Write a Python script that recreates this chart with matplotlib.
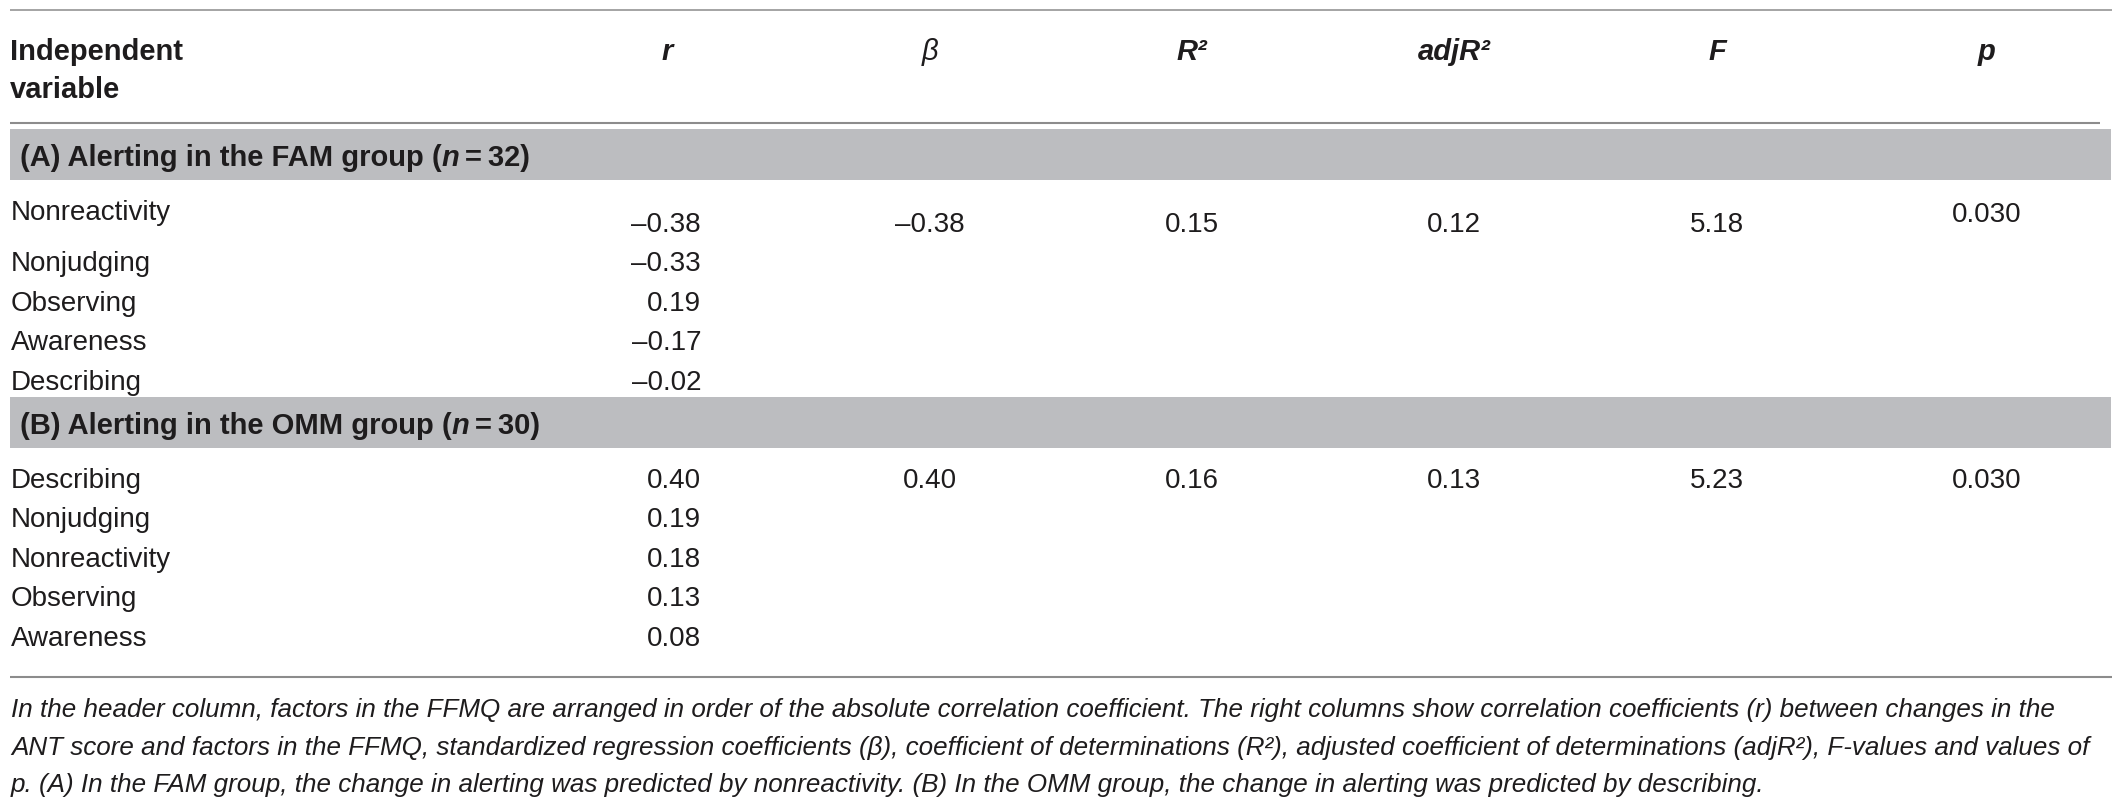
import matplotlib
matplotlib.use('Agg')
import matplotlib.pyplot as plt
from matplotlib.patches import Rectangle

# table contents
col_heads = ['r', 'β', 'R²', 'adjR²', 'F', 'p']
group_titles = ['(A) Alerting in the FAM group (', '(B) Alerting in the OMM group (']
group_n = [32, 30]
vars_a = ['Nonreactivity', 'Nonjudging', 'Observing', 'Awareness', 'Describing']
r_a = [-0.38, -0.33, 0.19, -0.17, -0.02]
vars_b = ['Describing', 'Nonjudging', 'Nonreactivity', 'Observing', 'Awareness']
r_b = [0.40, 0.19, 0.18, 0.13, 0.08]
beta = [-0.38, 0.40]
r2 = [0.15, 0.16]
adj_r2 = [0.12, 0.13]
f_vals = [5.18, 5.23]
p_vals = [0.030, 0.030]
notes = [
    'In the header column, factors in the FFMQ are arranged in order of the absolute correlation coefficient. '
    'The right columns show correlation coefficients (r) between changes in the',
    'ANT score and factors in the FFMQ, standardized regression coefficients (β), coefficient of determinations (R²), '
    'adjusted coefficient of determinations (adjR²), F-values and values of',
    'p. (A) In the FAM group, the change in alerting was predicted by nonreactivity. '
    '(B) In the OMM group, the change in alerting was predicted by describing.',
]

plt.rcParams['font.family'] = ['Liberation Sans', 'DejaVu Sans']

TEXT = '#1e1c1d'
BAND = '#bcbdc0'
RULE = '#8c8c8c'
BODY = 20
BOLD = 21
NOTE = 18.7

fig = plt.figure(figsize=(21.24, 8.1), dpi=100)
ax = fig.add_axes([0, 0, 1, 1])
ax.set_xlim(0, 2124)
ax.set_ylim(810, 0)
ax.axis('off')
renderer = fig.canvas.get_renderer()


def fmt(v, nd=2):
    return f'{v:.{nd}f}'.replace('-', '\u2013')


def runs(x, y, parts, **kw):
    for txt, extra in parts:
        t = ax.text(x, y, txt, **kw, **extra)
        x += t.get_window_extent(renderer).width


# rules and bands
ax.plot([10, 2112], [9.5, 9.5], color=RULE, lw=1.1, solid_capstyle='butt')
ax.plot([10, 2100], [123, 123], color=RULE, lw=1.5, solid_capstyle='butt')
ax.plot([10, 2112], [677, 677], color=RULE, lw=1.5, solid_capstyle='butt')
band_tops = [129, 397]
for top in band_tops:
    ax.add_patch(Rectangle((10, top), 2101, 51, color=BAND, lw=0))

# header
ax.text(10, 60, 'Independent', fontsize=BOLD, fontweight='bold', color=TEXT, va='baseline')
ax.text(10, 98, 'variable', fontsize=BOLD, fontweight='bold', color=TEXT, va='baseline')
col_x = [667, 930, 1192, 1454, 1717, 1987]
for cx, h in zip(col_x, col_heads):
    w = 'normal' if h == 'β' else 'bold'
    ax.text(cx, 60, h, fontsize=BOLD, fontweight=w, style='italic', color=TEXT,
            ha='center', va='baseline')

# group titles
for top, title, n in zip(band_tops, group_titles, group_n):
    runs(20, top + 37, [(title, {}), ('n', {'style': 'italic'}), (f'\u2009=\u2009{n})', {})],
         fontsize=BOLD, fontweight='bold', color=TEXT, va='baseline')

# group rows
groups = [(vars_a, r_a, 232), (vars_b, r_b, 488)]
step = 39.4
for g, (names, rs, y0) in enumerate(groups):
    for i, (name, rv) in enumerate(zip(names, rs)):
        y = y0 + i * step
        ly = y - 12 if (g == 0 and i == 0) else y
        ax.text(11, ly, name, fontsize=BODY, color=TEXT, va='baseline')
        ax.text(701, y, fmt(rv), fontsize=BODY, color=TEXT, ha='right', va='baseline')
    stats = [fmt(beta[g]), fmt(r2[g]), fmt(adj_r2[g]), fmt(f_vals[g]), fmt(p_vals[g], 3)]
    for j, (cx, s) in enumerate(zip(col_x[1:], stats)):
        y = y0 - 10 if (g == 0 and j == 4) else y0
        ax.text(cx, y, s, fontsize=BODY, color=TEXT, ha='center', va='baseline')

# footnote
for k, line in enumerate(notes):
    ax.text(11, 717 + k * 37.5, line, fontsize=NOTE, style='italic', color=TEXT, va='baseline')

fig.savefig('out.png', dpi=100)
